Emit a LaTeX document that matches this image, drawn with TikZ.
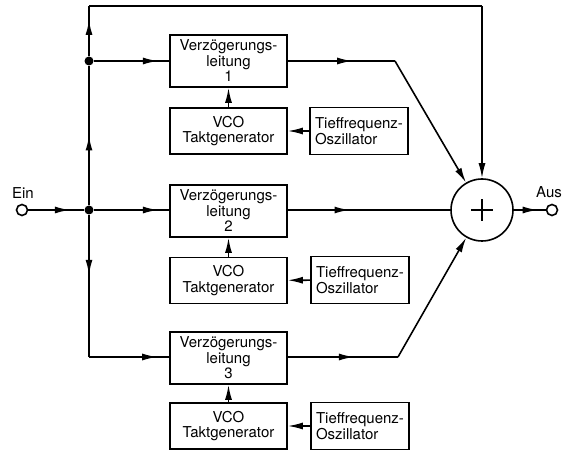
\documentclass[tikz,border=0pt]{standalone}
\usepackage{fontspec}
\setmainfont{TeX Gyre Heros}
\usetikzlibrary{arrows.meta,decorations.markings}
\tikzset{
  block/.style={draw, line width=1.6pt, inner sep=2pt, align=center,
    font=\fontsize{15}{15.5}\selectfont},
  verz/.style={block, minimum width=117pt, minimum height=52pt},
  vco/.style={block, minimum width=117pt, minimum height=46pt},
  tief/.style={block, align=left, minimum width=98pt, minimum height=47pt},
  pfeil/.style={-{Latex[length=15pt,width=7pt]}},
  mitte/.style={postaction={decorate}, decoration={markings,
    mark=at position #1 with {\arrow{Latex[length=15pt,width=7pt]}}}},
  punkt/.style={circle, fill, inner sep=0pt, minimum size=9pt},
  klemme/.style={circle, draw, line width=1.6pt, fill=white, inner sep=0pt, minimum size=11pt},
  beschr/.style={font=\fontsize{15}{15}\selectfont},
}
\begin{document}
\begin{tikzpicture}[x=1pt, y=-1pt, line width=1.6pt]
                \useasboundingbox (0,0) rectangle (574,454);

                % Blöcke
                \node[verz] (d1) at (228.5,61) {Verzögerungs-\\leitung\\1};
                \node[vco]  (v1) at (228.5,131) {VCO\\Taktgenerator};
                \node[tief] (t1) at (359,131) {Tieffrequenz-\\Oszillator};
                \node[verz] (d2) at (228.5,211) {Verzögerungs-\\leitung\\2};
                \node[vco]  (v2) at (228.5,280.5) {VCO\\Taktgenerator};
                \node[tief] (t2) at (360,280) {Tieffrequenz-\\Oszillator};
                \node[verz] (d3) at (228.5,358) {Verzögerungs-\\leitung\\3};
                \node[vco]  (v3) at (228.5,426) {VCO\\Taktgenerator};
                \node[tief] (t3) at (360,426) {Tieffrequenz-\\Oszillator};

                % Summierer, Ein- und Ausgang
                \node[circle, draw, line width=1.6pt, minimum size=62pt] (sum) at (482,210) {};
                \draw ([xshift=-11pt]sum.center) -- ([xshift=11pt]sum.center)
                     ([yshift=-11pt]sum.center) -- ([yshift=11pt]sum.center);
                \node[klemme] (ein) at (22,210) {};
                \node[beschr] (einl) at (23,193) {Ein};
                \node[klemme] (aus) at (552,210) {};
                \node[beschr] (ausl) at (549,192) {Aus};

                % Verzweigungen
                \node[punkt] (k1) at (89,61) {};
                \node[punkt] (k2) at (89,210) {};
                \coordinate (oben) at (89,6);
                \coordinate (obenr) at (482,6);
                \coordinate (unten) at (89,357);
                \coordinate (c1) at (395,61);
                \coordinate (c3) at (398,357);

                % Eingang und Bus
                \draw[mitte=0.75] (ein) -- (k2);
                \draw[mitte=0.5] (k2) -- (k1);
                \draw[mitte=0.72] (k1) -- (oben);
                \draw (oben) -- (obenr);
                \draw[pfeil] (obenr) -- (sum.north);
                \draw[mitte=0.42] (k2) -- (unten);

                % Zu den Verzögerungsleitungen
                \draw[mitte=0.85] (k1) -- (d1.west |- k1);
                \draw[mitte=0.85] (k2) -- (d2.west |- k2);
                \draw[mitte=0.85] (unten) -- (d3.west |- unten);

                % Ausgänge zum Summierer
                \draw[mitte=0.6] (d1.east |- c1) -- (c1);
                \draw[pfeil] (c1) -- (sum);
                \draw[mitte=0.38] (d2.east |- k2) -- (sum.west);
                \draw[mitte=0.6] (d3.east |- c3) -- (c3);
                \draw[pfeil] (c3) -- (sum);
                \draw[mitte=0.75] (sum.east) -- (aus);

                % Steuerung
                \foreach \i in {1,2,3} {
                  \draw[pfeil] (v\i) -- (d\i);
                  \draw[pfeil] (t\i) -- (v\i);
                }
\end{tikzpicture}
\end{document}
